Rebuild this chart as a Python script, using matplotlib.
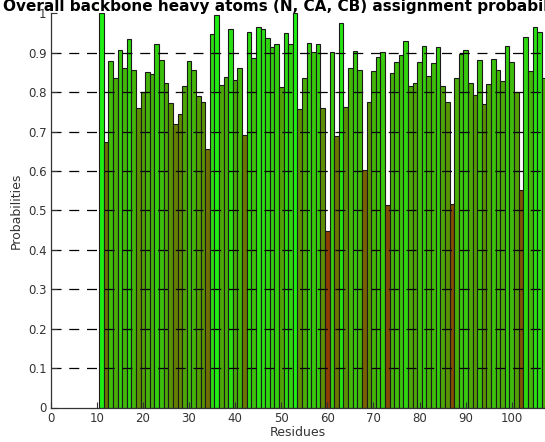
import numpy as np
import matplotlib
matplotlib.use("Agg")
import matplotlib.pyplot as plt
from matplotlib.colors import LinearSegmentedColormap

residues = list(range(11, 108))
probabilities = [
    1.00, 0.673, 0.878, 0.835, 0.906, 0.860, 0.935, 0.857, 0.760, 0.800,  # 11-20
    0.852, 0.846, 0.923, 0.882, 0.822, 0.773, 0.720, 0.745, 0.815, 0.878,  # 21-30
    0.857, 0.791, 0.774, 0.657, 0.947, 0.995, 0.819, 0.838, 0.959, 0.831,  # 31-40
    0.861, 0.692, 0.952, 0.886, 0.964, 0.959, 0.937, 0.915, 0.923, 0.812,  # 41-50
    0.950, 0.923, 1.00, 0.756, 0.835, 0.925, 0.901, 0.921, 0.761, 0.447,  # 51-60
    0.901, 0.690, 0.975, 0.763, 0.860, 0.905, 0.857, 0.602, 0.774, 0.853,  # 61-70
    0.888, 0.901, 0.514, 0.848, 0.876, 0.893, 0.929, 0.815, 0.822, 0.877,  # 71-80
    0.918, 0.840, 0.873, 0.915, 0.815, 0.776, 0.516, 0.836, 0.897, 0.906,  # 81-90
    0.824, 0.794, 0.882, 0.769, 0.821, 0.884, 0.857, 0.829, 0.918, 0.877,  # 91-100
    0.801, 0.552, 0.941, 0.854, 0.964, 0.953, 0.836,                      # 101-107
]
x_ticks = list(range(0, 101, 10))
y_ticks = [round(v * 0.1, 1) for v in range(0, 11)]
y_tick_labels = ["0", "0.1", "0.2", "0.3", "0.4", "0.5", "0.6", "0.7", "0.8", "0.9", "1"]
title = "Overall backbone heavy atoms (N, CA, CB) assignment probabilities"

W, H = 545, 442
fig = plt.figure(figsize=(W / 100, H / 100), dpi=100)
ax = fig.add_axes([50.7 / W, (H - 407.5) / H, 1 - 50.7 / W, (407.5 - 13.3) / H])

cmap = LinearSegmentedColormap.from_list(
    "prob", [(0.56, 0.24, 0.0), (0.40, 0.50, 0.0), (0.12, 0.94, 0.08)])
p = np.array(probabilities)
t = (p - p.min()) / (p.max() - p.min())
colors = cmap(t)

ax.bar(residues, probabilities, width=1.0, color=colors,
       edgecolor="#1a1a1a", linewidth=0.8, zorder=2)

ax.set_xlim(0, 107.2)
ax.set_ylim(0, 1.0)
ax.set_xticks(x_ticks)
ax.set_yticks(y_ticks)
ax.set_yticklabels(y_tick_labels)

# dash 10 px on, 7.7 px off at lw 0.9 pt
ax.yaxis.grid(True, color="black", linewidth=0.9, linestyle=(0, (8.0, 6.2)), zorder=3)
ax.set_axisbelow(False)
gl = ax.yaxis.get_gridlines()
gl[0].set_visible(False)
gl[-1].set_visible(False)

for s in ["top", "right"]:
    ax.spines[s].set_visible(False)
for s in ["left", "bottom"]:
    ax.spines[s].set_color("#333333")
    ax.spines[s].set_linewidth(0.9)
    ax.spines[s].set_zorder(4)

ax.tick_params(direction="in", length=4, width=0.8, colors="#333333",
               labelsize=8.5, labelcolor="#333333", pad=3)

ax.set_xlabel("Residues", fontsize=9, color="#333333", labelpad=1)
ax.set_ylabel("Probabilities", fontsize=9, color="#333333", labelpad=4)

fig.text(3 / W, 1 - 10.5 / H, title, ha="left", va="baseline",
         fontsize=11.0, fontweight="bold", color="black")

fig.savefig("out.png", dpi=100)
